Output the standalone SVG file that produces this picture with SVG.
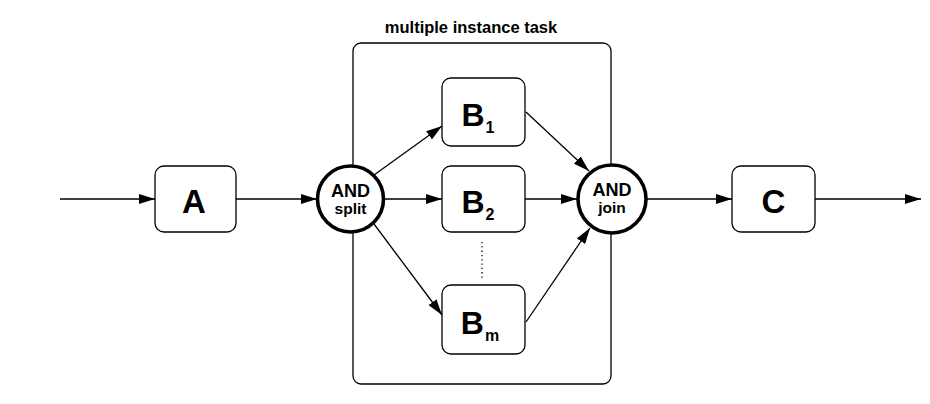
<svg xmlns="http://www.w3.org/2000/svg" width="930" height="404" viewBox="0 0 930 404">
<defs>
<marker id="arr" markerWidth="16" markerHeight="10" refX="16" refY="5" orient="auto" markerUnits="userSpaceOnUse">
<path d="M0,0 L16,5 L0,10 z" fill="#000"/>
</marker>
</defs>
<style>
.box{fill:#fff;stroke:#000;stroke-width:1.3}
.gw{fill:#fff;stroke:#000;stroke-width:3.6}
.ln{stroke:#000;stroke-width:1.3;fill:none}
.t{font-family:"Liberation Sans",Arial,sans-serif;font-weight:bold;fill:#000}
.big{font-size:33px}
.bb{font-size:32px}
.sub{font-size:16px}
.and{font-size:18px}
.sm{font-size:15.5px}
</style>
<rect width="930" height="404" fill="#fff"/>
<g id="mi-task">
<rect class="box" x="353" y="43" width="258" height="341" rx="8"/>
<text class="t" x="471" y="33" font-size="16.5" text-anchor="middle">multiple instance task</text>
</g>
<g id="connectors">
<line class="ln" x1="60" y1="199" x2="155" y2="199" marker-end="url(#arr)"/>
<line class="ln" x1="236" y1="199" x2="317" y2="199" marker-end="url(#arr)"/>
<line class="ln" x1="384" y1="199" x2="442" y2="199" marker-end="url(#arr)"/>
<line class="ln" x1="374" y1="175" x2="442" y2="126" marker-end="url(#arr)"/>
<line class="ln" x1="374" y1="224" x2="442" y2="315" marker-end="url(#arr)"/>
<line class="ln" x1="525" y1="199" x2="577" y2="199" marker-end="url(#arr)"/>
<line class="ln" x1="526" y1="112" x2="589" y2="171" marker-end="url(#arr)"/>
<line class="ln" x1="526" y1="322" x2="590" y2="228" marker-end="url(#arr)"/>
<line class="ln" x1="647" y1="199" x2="732" y2="199" marker-end="url(#arr)"/>
<line class="ln" x1="815" y1="199" x2="921" y2="199" marker-end="url(#arr)"/>
<line class="ln" x1="482" y1="242" x2="482" y2="278" stroke-dasharray="1.3,3"/>
</g>
<g id="A">
<rect class="box" x="155" y="166" width="81" height="66" rx="9"/>
<text class="t big" x="194" y="213" text-anchor="middle">A</text>
</g>
<g id="split">
<circle class="gw" cx="350.5" cy="199" r="33"/>
<text class="t and" x="350.5" y="197" text-anchor="middle">AND</text>
<text class="t sm" x="350.5" y="214" text-anchor="middle">split</text>
</g>
<g id="B1">
<rect class="box" x="442" y="78" width="83" height="68" rx="9"/>
<text class="t bb" x="478" y="126" text-anchor="middle">B<tspan class="sub" dx="1" dy="7">1</tspan></text>
</g>
<g id="B2">
<rect class="box" x="442" y="166" width="83" height="66" rx="9"/>
<text class="t bb" x="478" y="213" text-anchor="middle">B<tspan class="sub" dx="1" dy="7">2</tspan></text>
</g>
<g id="Bm">
<rect class="box" x="442" y="285" width="83" height="69" rx="9"/>
<text class="t bb" x="480" y="333.5" text-anchor="middle">B<tspan class="sub" dx="1" dy="7">m</tspan></text>
</g>
<g id="join">
<circle class="gw" cx="612" cy="199" r="34"/>
<text class="t and" x="612" y="196" text-anchor="middle">AND</text>
<text class="t sm" x="612" y="213" text-anchor="middle">join</text>
</g>
<g id="C">
<rect class="box" x="732" y="166" width="83" height="66" rx="9"/>
<text class="t big" x="773.5" y="213" text-anchor="middle">C</text>
</g>
</svg>
